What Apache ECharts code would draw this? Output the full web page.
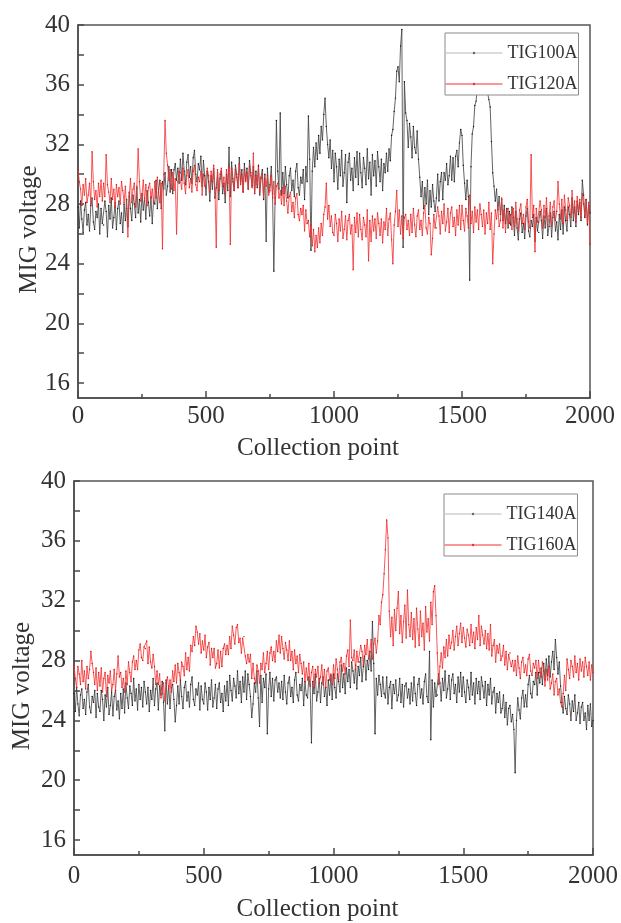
<!DOCTYPE html>
<html>
<head>
<meta charset="utf-8">
<script src="https://cdn.jsdelivr.net/npm/echarts@6/dist/echarts.min.js"></script>
<style>
html,body{margin:0;padding:0;background:#fff;}
#chart{width:621px;height:923px;}
</style>
</head>
<body>
<div id="chart"></div>
<script>
// Values read every 5 collection points (0 ... 2000)
const step = 5;
const xTicks = [0, 500, 1000, 1500, 2000];
const yLabels = [16, 20, 24, 28, 32, 36, 40];
const yTickMarks = [16, 18, 20, 22, 24, 26, 28, 30, 32, 34, 36, 38, 40];
const namesTop = ['TIG100A', 'TIG120A'];
const namesBottom = ['TIG140A', 'TIG160A'];

const tig100 = [
27.8, 26.4, 28.2, 27.0, 26.1, 27.6, 28.1, 26.6, 27.3, 26.2, 27.9, 28.4, 26.8, 26.3, 27.5, 27.1, 28.0, 26.0, 27.7, 26.7,
26.6, 28.2, 27.5, 25.8, 27.9, 27.0, 28.4, 26.4, 27.1, 28.1, 26.3, 27.7, 28.2, 26.7, 27.4, 26.1, 28.0, 26.9, 28.3, 26.5,
28.8, 27.7, 26.9, 28.6, 28.0, 27.1, 29.1, 27.4, 28.3, 26.8, 28.7, 27.6, 28.4, 27.0, 28.9, 28.1, 27.2, 28.5, 26.7, 28.2,
28.0, 29.6, 27.7, 29.0, 29.6, 27.7, 29.5, 29.0, 30.1, 28.6, 29.2, 30.5, 28.8, 30.3, 28.7, 30.3, 30.7, 29.6, 30.4, 29.4,
31.0, 29.6, 31.4, 30.2, 29.3, 30.8, 31.3, 29.8, 30.5, 29.4, 31.1, 31.6, 30.0, 29.5, 30.7, 30.3, 31.2, 29.2, 30.9, 29.9,
28.6, 30.2, 29.5, 28.2, 29.9, 29.0, 30.4, 28.4, 29.1, 30.1, 28.3, 29.7, 30.2, 28.7, 29.4, 28.1, 30.0, 28.9, 31.8, 28.5,
30.8, 29.7, 28.9, 30.6, 30.0, 29.1, 31.1, 29.4, 30.3, 28.8, 30.7, 29.6, 30.4, 29.0, 30.9, 30.1, 29.2, 30.5, 28.7, 30.2,
29.1, 30.6, 28.6, 29.8, 30.3, 28.3, 30.0, 25.5, 30.4, 28.8, 29.3, 30.5, 28.7, 23.5, 28.4, 33.6, 30.2, 29.0, 34.1, 28.6,
30.1, 28.7, 30.5, 29.3, 28.4, 29.9, 30.4, 28.9, 29.6, 28.5, 30.2, 30.7, 29.1, 28.6, 29.8, 29.4, 30.3, 28.3, 30.5, 29.5,
33.9, 31.0, 24.9, 30.2, 31.8, 30.5, 32.1, 31.0, 32.6, 31.4, 33.2, 32.3, 34.0, 35.1, 33.2, 32.0, 31.1, 32.3, 30.4, 31.6,
29.5, 31.4, 30.5, 29.0, 31.0, 29.9, 31.6, 29.2, 30.1, 31.3, 28.1, 30.8, 31.4, 29.6, 30.4, 28.9, 31.1, 29.8, 31.5, 29.3,
31.4, 30.1, 29.1, 31.1, 30.4, 29.3, 31.7, 29.7, 30.8, 28.6, 31.3, 29.9, 30.9, 29.2, 31.5, 30.5, 29.5, 31.0, 28.9, 30.7,
30.1, 31.4, 30.2, 31.7, 30.9, 32.6, 33.0, 34.2, 35.1, 36.9, 37.2, 36.2, 38.6, 39.7, 25.1, 36.2, 34.1, 33.6, 31.8, 33.4,
32.5, 31.1, 33.2, 31.8, 31.4, 32.9, 31.0, 29.8, 28.5, 29.5, 27.7, 29.1, 28.0, 29.6, 27.3, 28.9, 27.8, 29.3, 28.2, 27.5,
28.4, 30.0, 28.2, 29.5, 30.1, 28.3, 30.1, 29.6, 30.7, 29.3, 29.9, 31.2, 29.6, 31.1, 29.5, 31.2, 31.6, 30.5, 32.1, 33.0,
32.6, 30.6, 29.4, 28.3, 29.6, 28.5, 22.9, 30.5, 32.7, 33.2, 34.6, 34.9, 35.9, 36.6, 35.8, 37.0, 36.1, 35.7, 36.8, 35.9,
35.8, 35.0, 34.5, 32.2, 30.1, 29.2, 28.2, 29.0, 27.6, 28.5, 27.3, 28.3, 26.9, 27.9, 26.7, 27.7, 26.4, 27.5, 26.6, 27.8,
27.1, 25.9, 27.5, 26.4, 25.6, 27.0, 27.4, 26.1, 26.7, 25.7, 27.2, 27.7, 26.2, 25.8, 26.9, 26.5, 27.3, 25.5, 27.1, 26.2,
26.1, 27.5, 26.9, 25.7, 27.2, 26.4, 27.7, 25.9, 26.5, 27.4, 25.8, 27.1, 27.5, 26.2, 26.8, 25.6, 27.3, 26.3, 27.6, 26.0,
27.8, 26.9, 26.2, 27.8, 27.3, 26.5, 28.4, 26.9, 27.8, 26.5, 28.2, 27.3, 28.1, 26.9, 29.6, 28.6, 27.1, 28.3, 26.6, 27.9,
27.4
];

const tig120 = [
30.3, 29.5, 29.0, 27.9, 29.3, 28.6, 29.7, 28.1, 28.6, 29.4, 28.0, 31.5, 29.5, 28.3, 28.9, 27.8, 29.4, 28.5, 29.6, 28.2,
29.4, 28.5, 31.3, 29.3, 28.8, 28.1, 29.7, 28.3, 29.0, 27.8, 29.3, 28.5, 29.1, 28.0, 29.5, 28.9, 28.1, 29.2, 27.7, 25.8,
28.5, 29.7, 28.1, 29.0, 29.4, 27.8, 29.2, 31.7, 29.5, 28.2, 28.6, 29.6, 28.2, 29.3, 27.9, 29.1, 29.4, 28.4, 29.0, 28.1,
29.5, 28.4, 29.8, 28.8, 28.1, 29.4, 25.0, 30.0, 33.6, 31.4, 30.6, 29.6, 30.3, 29.0, 30.1, 28.9, 29.7, 26.0, 29.5, 30.2,
30.1, 29.0, 30.4, 29.4, 28.7, 29.9, 30.3, 29.1, 29.7, 28.8, 30.2, 30.6, 29.3, 28.9, 29.8, 29.5, 30.2, 28.6, 30.0, 29.2,
29.1, 30.4, 29.9, 28.8, 30.2, 29.5, 30.6, 29.0, 25.1, 30.3, 28.9, 30.0, 30.4, 29.2, 29.8, 28.7, 30.3, 29.4, 30.5, 25.3,
30.4, 29.5, 28.9, 30.3, 29.8, 29.1, 30.7, 29.3, 30.0, 28.8, 30.3, 29.5, 30.1, 29.0, 30.5, 29.9, 29.1, 31.4, 28.7, 29.9,
29.3, 30.5, 28.8, 29.7, 30.0, 28.4, 29.7, 29.2, 29.9, 28.6, 28.9, 29.9, 28.4, 29.5, 28.0, 29.2, 29.4, 28.4, 28.9, 28.0,
29.1, 27.9, 29.2, 28.2, 27.4, 28.5, 28.8, 27.5, 28.1, 27.1, 28.4, 28.7, 27.3, 26.9, 27.7, 27.3, 27.9, 26.2, 27.6, 26.7,
26.9, 25.8, 26.6, 25.2, 26.3, 24.8, 25.9, 25.1, 26.4, 25.4, 26.7, 25.9, 27.3, 27.8, 29.4, 27.0, 27.9, 26.5, 27.2, 26.1,
25.9, 27.3, 26.7, 25.5, 27.0, 26.2, 27.5, 25.7, 26.3, 27.2, 25.6, 26.9, 27.3, 26.0, 26.6, 23.6, 27.1, 26.1, 27.4, 25.8,
27.3, 26.3, 25.6, 27.1, 26.6, 25.8, 27.6, 24.2, 26.9, 25.5, 27.2, 26.2, 27.0, 25.7, 27.4, 26.7, 25.9, 27.0, 25.4, 26.8,
26.3, 27.7, 25.9, 27.0, 27.4, 25.6, 24.0, 26.6, 27.5, 28.9, 26.5, 27.6, 26.0, 27.2, 25.7, 27.1, 27.3, 26.3, 26.9, 25.9,
27.3, 26.1, 27.7, 26.6, 25.8, 27.2, 27.6, 26.3, 26.9, 25.9, 27.4, 27.9, 26.4, 26.0, 27.1, 26.7, 24.6, 25.7, 27.3, 26.4,
26.4, 27.8, 27.2, 26.0, 27.5, 26.7, 28.0, 26.2, 26.8, 27.7, 26.1, 27.4, 27.8, 26.5, 27.1, 25.9, 27.6, 26.6, 27.9, 26.3,
27.9, 26.9, 26.2, 27.7, 27.2, 26.4, 28.6, 26.7, 27.5, 26.1, 27.8, 26.8, 27.6, 26.3, 28.0, 27.3, 26.5, 27.6, 26.0, 27.4,
26.7, 28.1, 26.3, 27.4, 24.0, 26.0, 27.6, 27.0, 27.9, 26.5, 26.9, 28.4, 26.4, 27.6, 26.1, 27.5, 27.7, 26.7, 27.3, 26.3,
27.7, 26.5, 28.1, 27.0, 26.2, 27.6, 28.0, 26.7, 27.3, 26.3, 27.8, 28.3, 26.8, 26.4, 31.3, 27.1, 27.9, 24.8, 27.7, 26.8,
26.8, 28.2, 27.6, 26.4, 27.9, 27.1, 28.4, 26.6, 27.2, 28.1, 26.5, 27.8, 28.2, 26.9, 27.5, 29.5, 28.0, 27.0, 28.3, 26.7,
28.6, 27.6, 26.9, 28.4, 27.9, 27.1, 28.9, 27.4, 28.2, 26.8, 28.5, 27.5, 28.3, 27.1, 28.7, 28.0, 27.2, 28.3, 26.7, 28.1,
25.3
];

const tig140 = [
25.8, 24.6, 26.2, 25.1, 24.3, 25.7, 26.1, 24.8, 25.4, 24.4, 25.9, 26.4, 24.9, 24.5, 25.6, 25.2, 26.0, 24.2, 25.8, 24.9,
24.6, 26.0, 25.4, 24.0, 25.7, 24.9, 26.2, 24.4, 25.0, 25.9, 24.3, 25.6, 26.0, 24.7, 25.3, 24.1, 25.8, 24.8, 26.1, 24.5,
26.5, 25.5, 24.8, 26.3, 25.8, 25.0, 26.8, 25.3, 26.1, 24.7, 26.4, 25.4, 26.2, 24.9, 26.6, 25.9, 25.1, 26.2, 24.6, 26.0,
25.4, 26.8, 25.0, 26.1, 26.5, 24.7, 26.3, 25.7, 26.6, 25.2, 23.3, 26.7, 25.1, 26.3, 24.8, 26.2, 26.4, 25.4, 23.9, 25.0,
26.3, 25.1, 26.7, 25.6, 24.8, 26.2, 26.6, 25.3, 25.9, 24.9, 26.4, 26.9, 25.4, 25.0, 26.1, 25.7, 26.5, 24.7, 26.3, 25.4,
25.1, 26.5, 25.9, 24.7, 26.2, 25.4, 26.7, 24.9, 25.5, 26.4, 24.8, 26.1, 26.5, 25.2, 25.8, 24.6, 26.3, 25.3, 26.6, 25.0,
27.0, 26.0, 25.3, 26.8, 26.3, 25.5, 27.3, 25.8, 26.6, 25.2, 26.9, 25.9, 27.3, 25.4, 27.1, 26.4, 25.6, 24.2, 25.1, 26.5,
25.9, 27.3, 25.5, 23.6, 27.0, 25.2, 26.8, 26.2, 27.1, 23.1, 26.1, 27.2, 25.6, 26.8, 25.3, 26.7, 26.9, 25.9, 26.5, 25.5,
26.6, 25.4, 27.0, 25.9, 25.1, 26.5, 26.9, 25.6, 26.2, 25.2, 26.7, 27.2, 25.7, 25.3, 26.4, 26.0, 26.8, 25.0, 26.6, 25.7,
25.5, 26.9, 26.3, 22.5, 26.6, 25.8, 27.1, 25.3, 25.9, 26.8, 25.2, 26.5, 26.9, 25.6, 26.2, 25.0, 26.7, 25.7, 27.0, 25.4,
27.1, 26.2, 25.5, 27.1, 26.6, 25.9, 27.7, 26.2, 27.1, 25.8, 27.5, 26.6, 27.4, 26.2, 27.9, 27.3, 26.5, 27.7, 26.1, 27.6,
27.0, 28.2, 26.6, 27.6, 28.3, 26.7, 28.0, 27.4, 28.6, 27.3, 30.6, 27.8, 23.1, 26.8, 25.7, 27.0, 26.4, 25.6, 26.9, 25.8,
25.5, 26.9, 25.1, 26.2, 26.6, 24.8, 26.4, 25.8, 26.7, 25.3, 25.7, 26.8, 25.2, 26.4, 24.9, 26.3, 26.5, 25.5, 26.1, 25.1,
26.5, 25.3, 26.9, 25.8, 25.0, 26.4, 26.8, 25.5, 26.1, 25.1, 26.6, 27.1, 25.6, 25.2, 28.6, 22.7, 26.7, 24.9, 26.5, 25.6,
25.7, 27.1, 26.5, 25.3, 26.8, 26.0, 27.3, 25.5, 26.1, 27.0, 25.4, 26.7, 27.1, 25.8, 26.4, 25.2, 26.9, 25.9, 27.2, 25.6,
26.9, 25.9, 25.2, 26.7, 26.2, 25.4, 27.2, 25.7, 26.5, 25.1, 26.8, 25.8, 26.6, 25.4, 26.9, 26.3, 25.5, 26.6, 25.0, 26.4,
25.7, 26.8, 25.1, 25.9, 26.2, 24.5, 25.8, 25.2, 25.9, 24.5, 24.8, 25.7, 24.2, 25.2, 23.7, 24.8, 25.0, 23.9, 24.4, 23.4,
20.5, 24.0, 25.5, 24.7, 24.1, 25.5, 26.0, 24.9, 25.7, 24.9, 26.4, 27.0, 25.8, 25.5, 26.6, 26.4, 27.2, 25.7, 27.2, 26.5,
27.5, 26.4, 27.8, 26.7, 28.1, 27.0, 28.3, 26.9, 27.9, 28.6, 27.4, 29.4, 28.2, 27.1, 27.9, 26.3, 25.2, 24.5, 25.6, 24.8,
24.4, 25.7, 25.1, 24.0, 25.3, 24.6, 25.7, 24.0, 24.5, 25.2, 23.8, 24.9, 25.2, 24.0, 24.5, 23.4, 25.0, 24.0, 25.1, 23.6,
24.0
];

const tig160 = [
27.7, 26.8, 26.2, 27.6, 27.1, 26.4, 28.0, 26.6, 27.3, 26.1, 27.6, 26.8, 27.4, 28.6, 27.8, 27.2, 26.4, 27.5, 26.0, 27.2,
26.3, 27.5, 25.9, 26.8, 27.2, 25.6, 27.0, 26.5, 27.3, 26.0, 26.4, 27.4, 26.0, 27.1, 28.3, 26.9, 27.2, 26.2, 26.8, 25.9,
27.3, 26.4, 27.9, 27.2, 26.6, 27.9, 28.3, 27.4, 28.0, 27.4, 28.7, 29.1, 28.2, 28.0, 28.9, 28.8, 29.3, 27.8, 28.9, 27.9,
27.5, 28.4, 27.6, 26.4, 27.3, 26.4, 27.1, 25.5, 25.8, 26.5, 25.3, 26.5, 26.9, 26.1, 26.7, 25.9, 27.3, 26.6, 27.7, 26.5,
27.8, 27.2, 26.7, 27.9, 27.6, 27.0, 28.5, 27.4, 28.2, 27.3, 29.0, 28.6, 29.6, 29.0, 30.3, 29.9, 29.1, 29.8, 28.5, 29.3,
28.7, 29.7, 28.2, 28.9, 29.2, 27.7, 28.8, 28.2, 28.8, 27.5, 27.8, 28.7, 27.5, 28.6, 27.6, 28.8, 29.1, 28.4, 29.0, 28.4,
29.6, 28.8, 30.3, 29.7, 29.1, 30.2, 30.4, 29.2, 29.5, 28.5, 29.5, 29.6, 28.3, 27.8, 28.4, 27.9, 28.4, 26.8, 27.8, 26.8,
26.5, 27.7, 27.3, 26.5, 27.8, 27.4, 28.5, 27.2, 27.8, 28.6, 27.4, 28.5, 28.9, 28.0, 28.6, 27.9, 29.3, 28.6, 29.7, 28.5,
29.6, 28.8, 28.1, 29.2, 28.7, 28.0, 29.3, 28.0, 28.6, 27.4, 28.7, 27.8, 28.3, 27.2, 28.4, 27.8, 27.1, 27.9, 26.6, 27.5,
26.7, 27.8, 26.4, 27.2, 27.6, 26.2, 27.4, 26.9, 27.6, 26.5, 26.9, 27.7, 26.4, 27.4, 26.2, 27.3, 27.5, 26.7, 27.1, 26.4,
27.7, 26.8, 28.1, 27.4, 26.7, 27.9, 28.2, 27.3, 27.8, 27.1, 28.3, 28.7, 27.6, 30.7, 28.2, 28.0, 28.7, 27.4, 28.6, 27.9,
27.9, 29.0, 28.6, 27.7, 29.0, 28.4, 29.4, 28.1, 28.6, 29.4, 28.1, 29.1, 29.5, 28.5, 29.3, 31.0, 30.4, 31.9, 32.4, 33.8,
35.4, 37.4, 36.2, 31.3, 29.6, 30.9, 29.0, 31.4, 30.0, 31.5, 32.6, 29.8, 31.0, 29.2, 30.6, 31.7, 29.5, 32.7, 30.4, 29.6,
31.2, 29.4, 30.8, 28.9, 31.5, 30.1, 29.0, 31.3, 29.6, 30.5, 28.7, 31.6, 29.9, 30.8, 29.3, 31.9, 30.4, 32.6, 33.0, 31.0,
28.5, 26.4, 27.6, 28.5, 27.5, 28.9, 28.2, 29.4, 28.3, 29.7, 28.8, 29.2, 30.0, 28.7, 29.6, 30.3, 29.0, 29.8, 30.5, 29.2,
30.2, 29.5, 28.9, 30.1, 29.7, 29.0, 30.4, 29.2, 29.9, 28.8, 30.2, 29.4, 31.0, 29.0, 30.3, 29.7, 29.1, 30.0, 28.8, 29.8,
28.7, 30.4, 28.3, 29.0, 29.4, 27.9, 29.0, 28.5, 29.1, 28.0, 28.3, 29.0, 27.7, 28.6, 27.4, 28.4, 28.5, 27.6, 28.0, 27.3,
28.0, 27.0, 28.3, 27.5, 26.8, 27.9, 28.2, 27.2, 27.7, 27.0, 28.1, 28.4, 27.3, 27.0, 27.8, 27.5, 28.0, 26.8, 28.0, 27.2,
26.9, 27.9, 27.3, 26.3, 27.4, 26.7, 27.6, 26.1, 26.5, 27.1, 25.7, 26.6, 26.8, 25.7, 26.1, 25.2, 24.9, 25.8, 27.0, 26.0,
28.1, 27.4, 26.8, 28.0, 27.6, 26.9, 28.3, 27.2, 27.8, 26.7, 28.1, 27.3, 27.9, 26.9, 28.2, 27.6, 27.0, 27.9, 26.7, 27.7,
27.2
];

function pairs(arr) { return arr.map((v, i) => [i * step, v]); }

const FONT = '"Liberation Serif", "DejaVu Serif", serif';
const TXT = '#333';
const AX = '#4a4a4a';

function xAxisCfg(gi, gap, margin) {
  return {
    gridIndex: gi, type: 'value', min: 0, max: 2000, interval: 500,
    axisLine: { show: true, onZero: false, lineStyle: { color: AX, width: 1.5 } },
    axisTick: { show: true, inside: true, length: 7, lineStyle: { color: AX, width: 1.5 } },
    minorTick: { show: true, splitNumber: 2, length: 4, lineStyle: { color: AX, width: 1.5 } },
    splitLine: { show: false },
    minorSplitLine: { show: false },
    axisLabel: { fontFamily: FONT, fontSize: 25, color: TXT, margin: margin,
      customValues: xTicks, formatter: function (v) { return String(v); } },
    name: 'Collection point', nameLocation: 'middle', nameGap: gap, nameMoveOverlap: false,
    nameTextStyle: { fontFamily: FONT, fontSize: 25, color: TXT, padding: [0, 32, 0, 0] }
  };
}
function yAxisCfg(gi, gap) {
  return {
    gridIndex: gi, type: 'value', min: 15, max: 40,
    axisLine: { show: true, onZero: false, lineStyle: { color: AX, width: 1.5 } },
    axisTick: { show: true, inside: true, length: 6, customValues: yTickMarks,
      lineStyle: { color: AX, width: 1.5 } },
    splitLine: { show: false },
    axisLabel: { fontFamily: FONT, fontSize: 25, color: TXT, margin: 8, customValues: yLabels },
    name: 'MIG voltage', nameLocation: 'middle', nameGap: gap, nameRotate: 90, nameMoveOverlap: false,
    nameTextStyle: { fontFamily: FONT, fontSize: 25, color: TXT, padding: [0, 36, 0, 0] }
  };
}
function seriesCfg(name, data, gi, lineColor, dotColor, z) {
  return {
    name: name, type: 'line', xAxisIndex: gi, yAxisIndex: gi,
    data: pairs(data), symbol: 'circle', symbolSize: 1.4, showSymbol: true,
    lineStyle: { color: lineColor, width: 0.8 }, itemStyle: { color: dotColor },
    z: z, animation: false, silent: true
  };
}
function legendCfg(names, left, top) {
  return {
    orient: 'vertical', left: left, top: top,
    backgroundColor: '#fff', borderColor: '#8a8a8a', borderWidth: 1,
    padding: [10, 1, 1, 0], itemGap: 11, itemWidth: 57, itemHeight: 3,
    textStyle: { fontFamily: FONT, fontSize: 18, color: TXT, lineHeight: 20 },
    data: [
      { name: names[0], lineStyle: { color: '#b8b8b8', width: 1 }, itemStyle: { color: '#666' } },
      { name: names[1], lineStyle: { color: '#f03030', width: 1 }, itemStyle: { color: '#f03030' } }
    ],
    selectedMode: false
  };
}

const chart = echarts.init(document.getElementById('chart'), null, { renderer: 'canvas' });
chart.setOption({
  animation: false,
  backgroundColor: '#fff',
  grid: [
    { left: 78, top: 25, width: 512, height: 373, show: true, borderColor: '#555', borderWidth: 1.5, backgroundColor: 'transparent' },
    { left: 74, top: 481, width: 519, height: 380, show: true, borderColor: '#555', borderWidth: 1.5, backgroundColor: 'transparent' }
  ],
  xAxis: [xAxisCfg(0, 38, 6), xAxisCfg(1, 42, 9)],
  yAxis: [yAxisCfg(0, 36), yAxisCfg(1, 39)],
  legend: [
    legendCfg(namesTop, 445, 33),
    legendCfg(namesBottom, 444, 494)
  ],
  series: [
    seriesCfg(namesTop[0], tig100, 0, '#3c3c3c', '#151515', 2),
    seriesCfg(namesTop[1], tig120, 0, '#f23030', '#e01010', 3),
    seriesCfg(namesBottom[0], tig140, 1, '#3c3c3c', '#151515', 2),
    seriesCfg(namesBottom[1], tig160, 1, '#f23030', '#e01010', 3)
  ]
});
</script>
</body>
</html>
